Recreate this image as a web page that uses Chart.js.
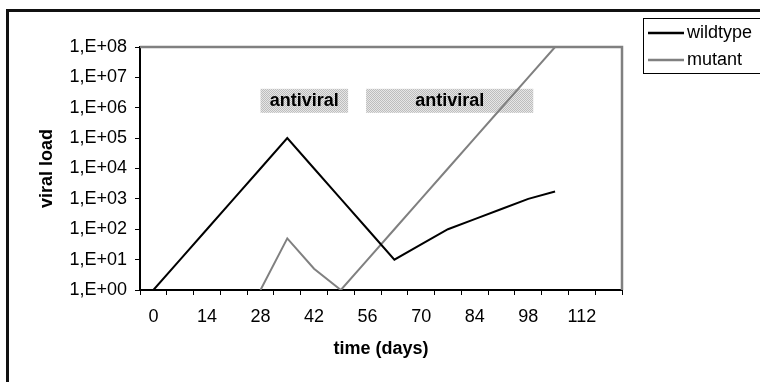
<!DOCTYPE html>
<html>
<head>
<meta charset="utf-8">
<script src="https://cdn.jsdelivr.net/npm/chart.js@4"></script>
<style>
  body { margin:0; background:#fff; }
  #wrap { width:760px; height:382px; }
</style>
</head>
<body>
<div id="wrap"><canvas id="grafica" width="760" height="382"></canvas></div>
<script>
// days (one category per week)
var dias = [0,7,14,21,28,35,42,49,56,63,70,77,84,91,98,105,112,119];
// viral load, null = no value
var wildtype = [1,10,100,1e3,1e4,1e5,1e4,1e3,100,10,32,100,215,464,1000,1750,null,null];
var mutant   = [null,null,null,null,1,50,5,1,10,100,1e3,1e4,1e5,1e6,1e7,1e8,null,null];
var yTicks = [1,10,100,1e3,1e4,1e5,1e6,1e7,1e8];
// treatment periods (days) and label band (viral load)
var antiviralDias = [[28,50.9],[55.6,99.3]];
var antiviralBanda = [6.8e5,4.2e6];

var fuente = "'Liberation Sans', Arial, sans-serif";

// stippled grey like the excel pattern fill
function trama(){
  var c = document.createElement('canvas');
  c.width = 2; c.height = 2;
  var x = c.getContext('2d');
  x.fillStyle = '#e6e6e6'; x.fillRect(0,0,2,2);
  x.fillStyle = '#bdbdbd'; x.fillRect(0,0,1,1); x.fillRect(1,1,1,1);
  return c;
}

var extras = {
  id: 'extras',
  beforeDraw: function(chart){
    var ctx = chart.ctx;
    ctx.save();
    ctx.fillStyle = '#fff';
    ctx.fillRect(0,0,chart.width,chart.height);
    ctx.restore();
  },
  beforeDatasetsDraw: function(chart){
    var ctx = chart.ctx, xs = chart.scales.x, ys = chart.scales.y, a = chart.chartArea;
    ctx.save();
    // antiviral boxes
    var pat = ctx.createPattern(trama(),'repeat');
    var y1 = ys.getPixelForValue(antiviralBanda[1]), y2 = ys.getPixelForValue(antiviralBanda[0]);
    antiviralDias.forEach(function(r){
      var x1 = xs.getPixelForValue(r[0]/7), x2 = xs.getPixelForValue(r[1]/7);
      ctx.fillStyle = pat;
      ctx.fillRect(x1,y1,x2-x1,y2-y1);
      ctx.fillStyle = '#000';
      ctx.font = 'bold 18px ' + fuente;
      ctx.textAlign = 'center';
      ctx.textBaseline = 'middle';
      ctx.fillText('antiviral',(x1+x2)/2,(y1+y2)/2);
    });
    // grey plot border (top, right)
    ctx.strokeStyle = '#808080';
    ctx.lineWidth = 2.5;
    ctx.beginPath();
    ctx.moveTo(a.left,a.top);
    ctx.lineTo(a.right,a.top);
    ctx.lineTo(a.right,a.bottom);
    ctx.stroke();
    ctx.restore();
  },
  afterDraw: function(chart){
    var ctx = chart.ctx;
    ctx.save();
    // outer frame (cut on the right and bottom)
    ctx.strokeStyle = '#111';
    ctx.lineWidth = 3;
    ctx.strokeRect(7.5,10.5,1000,1000);
    // legend
    ctx.strokeStyle = '#000';
    ctx.lineWidth = 1;
    ctx.fillStyle = '#fff';
    ctx.fillRect(643.5,18.5,200,55);
    ctx.strokeRect(643.5,18.5,200,55);
    ctx.font = '18px ' + fuente;
    ctx.textAlign = 'left';
    ctx.textBaseline = 'middle';
    chart.data.datasets.forEach(function(ds,i){
      var y = 33 + i*27;
      ctx.strokeStyle = ds.borderColor;
      ctx.lineWidth = 2.5;
      ctx.beginPath(); ctx.moveTo(648,y); ctx.lineTo(684,y); ctx.stroke();
      ctx.fillStyle = '#000';
      ctx.fillText(ds.label,687,y);
    });
    ctx.restore();
  }
};

var grafica = new Chart(document.getElementById('grafica'), {
  type: 'line',
  data: {
    labels: dias,
    datasets: [
      { label: 'wildtype', data: wildtype, borderColor: '#000', borderWidth: 2, pointRadius: 0, tension: 0, spanGaps: false },
      { label: 'mutant', data: mutant, borderColor: '#808080', borderWidth: 2, pointRadius: 0, tension: 0, spanGaps: false }
    ]
  },
  options: {
    responsive: false,
    animation: false,
    layout: { padding: { left: 32, top: 47, right: 138, bottom: 18 } },
    plugins: { legend: { display: false }, tooltip: { enabled: false } },
    scales: {
      x: {
        type: 'category',
        offset: true,
        grid: { offset: true, drawOnChartArea: false, tickLength: 5, color: '#000', lineWidth: 1 },
        border: { color: '#000', width: 2 },
        ticks: {
          autoSkip: false, maxRotation: 0, padding: 11, color: '#000',
          font: { family: fuente, size: 18 },
          callback: function(v,i){ return i % 2 === 0 ? String(dias[i]) : ''; }
        },
        title: { display: true, text: 'time (days)', color: '#000', font: { family: fuente, size: 18, weight: 'bold' } },
        afterFit: function(s){ s.height = 74; }
      },
      y: {
        type: 'logarithmic',
        min: 1, max: 1e8,
        grid: { drawOnChartArea: false, tickLength: 5, color: '#000', lineWidth: 1 },
        border: { color: '#000', width: 2 },
        afterBuildTicks: function(s){ s.ticks = yTicks.map(function(v){ return { value: v, major: true }; }); },
        ticks: {
          padding: 8, color: '#000',
          font: { family: fuente, size: 18 },
          callback: function(v){
            var e = Math.round(Math.log10(v));
            return '1,E+' + (e < 10 ? '0' : '') + e;
          }
        },
        title: { display: true, text: 'viral load', color: '#000', font: { family: fuente, size: 18, weight: 'bold' } },
        afterFit: function(s){ s.width = 108; }
      }
    }
  },
  plugins: [extras]
});
</script>
</body>
</html>
